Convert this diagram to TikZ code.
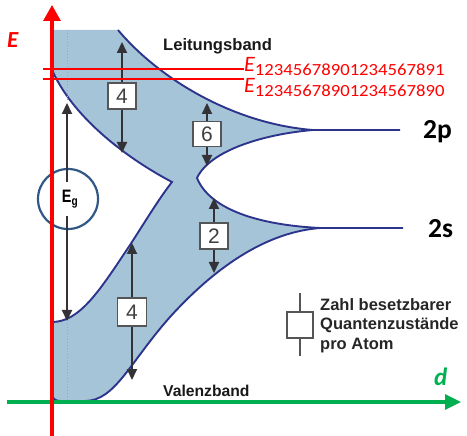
\documentclass[tikz,border=0pt]{standalone}
\usepackage{fontspec}
\setmainfont{Liberation Sans}
\newfontfamily\calib{Carlito}
\usepackage{graphicx}
\usetikzlibrary{arrows.meta}
\definecolor{bandfill}{RGB}{166,196,216}
\definecolor{bandline}{RGB}{44,52,140}
\definecolor{ringcol}{RGB}{48,88,135}
\definecolor{arrcol}{RGB}{50,50,55}
\definecolor{axred}{RGB}{255,0,0}
\definecolor{axgreen}{RGB}{0,176,80}
\definecolor{boxline}{RGB}{85,85,85}
\tikzset{
  bandedge/.style={draw=bandline, line width=1.9pt},
  sizearrow/.style={draw=arrcol, line width=2.1pt, -{Triangle[length=11pt,width=10pt]}},
  numbox/.style={draw=boxline, fill=white, line width=1.6pt, minimum width=28pt, minimum height=26pt, inner sep=0pt, text=black!75, font=\fontsize{21}{21}\selectfont},
  dotline/.style={draw=gray!70, line width=1pt, dotted},
  lbl/.style={anchor=base west, inner sep=0pt, text=black!90, font=\bfseries},
  redlevel/.style={draw=axred, line width=1.8pt},
  elabel/.style={anchor=base west, inner sep=0pt, text=axred, font=\calib},
}
\begin{document}
\begin{tikzpicture}[x=1pt,y=-1pt]
\useasboundingbox (0,0) rectangle (467,436);
% band area
\fill[bandfill] (52,30) -- (118,30)
 .. controls (160,80) and (235,124) .. (313,130)
 .. controls (265,134) and (210,150) .. (197,178)
 .. controls (210,210) and (260,225) .. (320,228)
 .. controls (270,232) and (220,262) .. (170,317)
 .. controls (130,362) and (115,401) .. (85,401)
 -- (60,401) .. controls (55,401) and (52,398) .. (52,394)
 -- (52,322)
 .. controls (80,322) and (100,290) .. (130,245)
 .. controls (145,222) and (158,200) .. (172,182)
 .. controls (130,160) and (75,120) .. (53,72)
 -- (52,72) -- cycle;
% band edges
\draw[bandedge] (118,30) .. controls (160,80) and (235,124) .. (313,130) -- (400,130);
\draw[bandedge] (313,130) .. controls (265,134) and (210,150) .. (197,178)
 .. controls (210,210) and (260,225) .. (320,228) -- (403,228);
\draw[bandedge] (320,228) .. controls (270,232) and (220,262) .. (170,317)
 .. controls (130,362) and (115,401) .. (85,401);
\draw[bandedge] (52,322) .. controls (80,322) and (100,290) .. (130,245)
 .. controls (145,222) and (158,200) .. (172,182)
 .. controls (130,160) and (75,120) .. (53,72);
\draw[bandedge] (52,394) .. controls (52,398) and (55,401) .. (60,401);
% dotted guides
\coordinate (d1a) at (67,30); \coordinate (d1b) at (67,102);
\coordinate (d2a) at (67,324); \coordinate (d2b) at (67,400);
\draw[dotline] (d1a) -- (d1b);
\draw[dotline] (d2a) -- (d2b);
% Eg
\node[draw=ringcol, line width=2.2pt, circle, minimum size=60pt, inner sep=0pt] (ring) at (68,199) {};
\node[inner sep=0pt, minimum height=34pt, font=\bfseries\fontsize{18}{18}\selectfont] (eg) at (70,199) {\scalebox{0.8}[1]{E\textsubscript{g}}};
\coordinate (egt) at (67,103); \coordinate (egb) at (67,321);
\draw[sizearrow] (eg.north -| egt) -- (egt);
\draw[sizearrow] (eg.south -| egb) -- (egb);
% number boxes with arrows
\node[numbox] (b4a) at (122,96) {4};
\coordinate (b4at) at (122,42); \coordinate (b4ab) at (122,153);
\draw[sizearrow] (b4a) -- (b4at);
\draw[sizearrow] (b4a) -- (b4ab);
\node[numbox, minimum height=25pt] (b6) at (207,134) {6};
\coordinate (b6t) at (207,103); \coordinate (b6b) at (207,166);
\draw[sizearrow] (b6) -- (b6t);
\draw[sizearrow] (b6) -- (b6b);
\node[numbox] (b2) at (214,236) {2};
\coordinate (b2t) at (214,198); \coordinate (b2b) at (214,273);
\draw[sizearrow] (b2) -- (b2t);
\draw[sizearrow] (b2) -- (b2b);
\node[numbox, minimum width=29pt, minimum height=28pt] (b4b) at (132,312) {4};
\coordinate (b4bt) at (132,243); \coordinate (b4bb) at (132,380);
\draw[sizearrow] (b4b) -- (b4bt);
\draw[sizearrow] (b4b) -- (b4bb);
% legend
\node[draw=boxline, line width=1.5pt, fill=white, minimum width=26pt, minimum height=26pt, inner sep=0pt] (lg) at (300,325) {};
\coordinate (lgt) at (300,293); \coordinate (lgb) at (300,356);
\draw[draw=boxline, line width=1.5pt] (lg) -- (lgt);
\draw[draw=boxline, line width=1.5pt] (lg) -- (lgb);
\node[anchor=north west, inner sep=0pt, align=left, text=black!85, font=\bfseries\fontsize{16.5}{19.5}\selectfont] (lgtext) at (320,298) {Zahl besetzbarer\\Quantenzustände\\pro Atom};
% band labels
\node[lbl, font=\bfseries\fontsize{16.6}{18}\selectfont] (lb) at (163,51) {Leitungsband};
\node[lbl, font=\bfseries\fontsize{15.7}{18}\selectfont] (vb) at (163,396) {Valenzband};
\node[anchor=base west, inner sep=0pt, font=\calib\bfseries\fontsize{27.5}{28}\selectfont] (p2) at (423,139) {2p};
\node[anchor=base west, inner sep=0pt, font=\calib\bfseries\fontsize{27.5}{28}\selectfont] (s2) at (428,238) {2s};
% red energy levels
\coordinate (r1a) at (43,69); \coordinate (r1b) at (244,69);
\coordinate (r2a) at (43,79); \coordinate (r2b) at (244,79);
\draw[redlevel] (r1a) -- (r1b);
\draw[redlevel] (r2a) -- (r2b);
\node[elabel] (e1) at (244,72) {\fontsize{22}{22}\selectfont\itshape E\raisebox{-4pt}{\upshape\fontsize{17}{17}\selectfont\scalebox{1.1}[1]{12345678901234567891}}};
\node[elabel] (e2) at (244,93) {\fontsize{22}{22}\selectfont\itshape E\raisebox{-4pt}{\upshape\fontsize{17}{17}\selectfont\scalebox{1.1}[1]{12345678901234567890}}};
% axes
\coordinate (ya) at (52,436); \coordinate (yb) at (52,5);
\coordinate (xa) at (7,402); \coordinate (xb) at (461,402);
\draw[draw=axgreen, line width=3.2pt, -{Triangle[length=16pt,width=15pt]}] (xa) -- (xb);
\draw[draw=axred, line width=3.2pt, -{Triangle[length=16pt,width=17pt]}] (ya) -- (yb);
\node[anchor=base west, inner sep=0pt, text=axred, font=\calib\bfseries\itshape\fontsize{23}{23}\selectfont] (ylab) at (7,48) {E};
\node[anchor=base west, inner sep=0pt, text=axgreen, font=\calib\bfseries\itshape\fontsize{25}{25}\selectfont] (xlab) at (434,385) {d};
\end{tikzpicture}
\end{document}
